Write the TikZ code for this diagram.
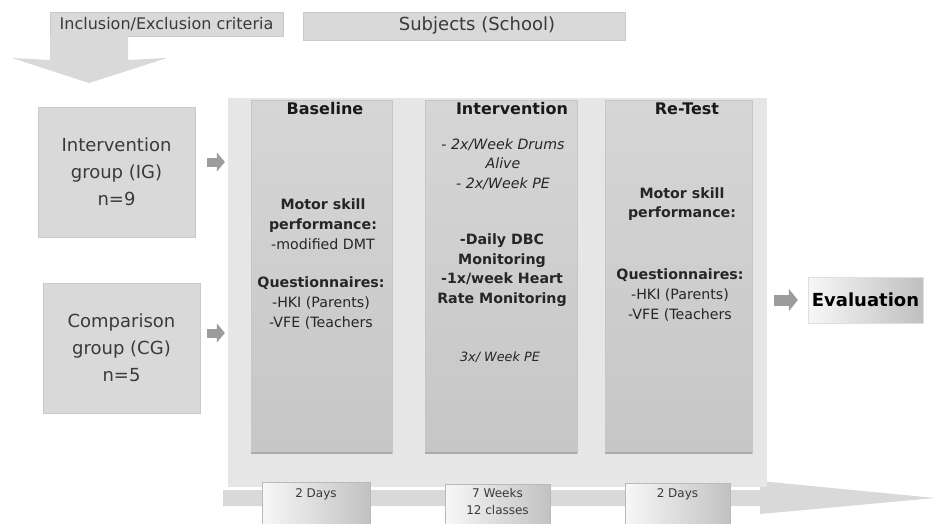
\documentclass[tikz,border=0pt]{standalone}
\usepackage{fontspec}
\setmainfont{DejaVu Sans}
\usetikzlibrary{arrows.meta}

\definecolor{boxgray}{HTML}{D9D9D9}
\definecolor{boxedge}{HTML}{C9C9C9}
\definecolor{panelgray}{HTML}{E6E6E6}
\definecolor{phasetop}{HTML}{D6D6D6}
\definecolor{phasebot}{HTML}{C6C6C6}
\definecolor{arrowgray}{HTML}{9C9C9C}
\definecolor{inkgray}{HTML}{3A3A3A}

\newcommand\groupfont{\fontsize{18}{27}\selectfont}
\newcommand\bodyfont{\fontsize{14.2}{19.7}\selectfont}

\tikzset{
  greybox/.style={fill=boxgray, draw=boxedge, inner sep=0pt, text=inkgray},
  phase/.style={draw=gray!45, top color=phasetop, bottom color=phasebot, inner sep=0pt},
  head/.style={font=\fontsize{16}{19}\selectfont\bfseries, text=black!90},
  body/.style={align=center, font=\bodyfont, text=black!85},
  daybox/.style={draw=gray!55, left color=gray!6, right color=gray!48, inner sep=0pt,
    minimum height=42pt},
  daytext/.style={anchor=north, align=center, font=\fontsize{12}{17}\selectfont, text=inkgray},
  flowarrow/.style={draw=arrowgray, line width=9pt, -{Triangle[length=8pt,width=19pt]}}
}

\begin{document}
\begin{tikzpicture}[x=1pt, y=-1pt]
  \useasboundingbox (0,0) rectangle (935,523);

  % top row
  \node[greybox, minimum width=233pt, minimum height=24pt,
    font=\fontsize{16}{19}\selectfont] (incl) at (166.5,24) {Inclusion/Exclusion criteria};
  \node[greybox, minimum width=322pt, minimum height=28pt,
    font=\fontsize{18}{21}\selectfont] (subj) at (464,26) {\hspace*{26pt}Subjects (School)};
  \fill[boxgray] (50,36) -- (50,60) -- (12,58) -- (89,83) -- (167,58) -- (128,60) -- (128,36) -- cycle;

  % groups
  \node[greybox, minimum width=157pt, minimum height=130pt, align=center, font=\groupfont]
    (ig) at (116.5,172) {Intervention\\group (IG)\\n=9};
  \node[greybox, minimum width=157pt, minimum height=130pt, align=center, font=\groupfont]
    (cg) at (121.5,348) {Comparison\\group (CG)\\n=5};

  % timeline
  \fill[boxgray] (223,490) -- (760,490) -- (760,481) -- (935,498) -- (760,514)
    -- (760,506) -- (223,506) -- cycle;

  % panel with the three phases
  \node[fill=panelgray, inner sep=0pt, minimum width=539pt, minimum height=389pt]
    (panel) at (497.5,292.5) {};
  \node[phase, minimum width=141pt, minimum height=353pt] (base) at (321.5,276.5) {};
  \node[phase, minimum width=152pt, minimum height=353pt] (interv) at (501,276.5) {};
  \node[phase, minimum width=147pt, minimum height=353pt] (retest) at (678.5,276.5) {};
  \foreach \c in {base,interv,retest}
    \draw[gray!65, line width=2pt] (\c.south west) -- (\c.south east);

  \node[head] (basehead) at (325,109) {Baseline};
  \node[head] (intervhead) at (512,109) {Intervention};
  \node[head] (retesthead) at (687,109) {Re-Test};

  \node[body] (basemotor) at (323,224) {\textbf{Motor skill}\\\textbf{performance:}\\-modified DMT};
  \node[body] (basequest) at (321,303) {\textbf{Questionnaires:}\\-HKI (Parents)\\-VFE (Teachers};

  \node[body, font=\bodyfont\itshape] (intervdrum) at (503,164) {- 2x/Week Drums\\Alive\\- 2x/Week PE};
  \node[body, font=\bodyfont\bfseries] (intervmon) at (502,270) {-Daily DBC\\Monitoring\\-1x/week Heart\\Rate Monitoring};
  \node[body, font=\fontsize{12.8}{16}\selectfont\itshape] (intervpe) at (500,357) {3x/ Week PE};

  \node[body, font=\bodyfont\bfseries] (retestmotor) at (682,204) {Motor skill\\performance:};
  \node[body] (retestquest) at (680,295) {\textbf{Questionnaires:}\\-HKI (Parents)\\-VFE (Teachers};

  % durations
  \node[daybox, minimum width=108pt] (d1) at (316,503) {};
  \node[daybox, minimum width=105pt] (d2) at (497.5,505) {};
  \node[daybox, minimum width=105pt] (d3) at (677.5,504) {};
  \node[daytext] (d1text) at ([yshift=-3pt]d1.north) {2 Days};
  \node[daytext] (d2text) at ([yshift=-1pt]d2.north) {7 Weeks\\12 classes};
  \node[daytext] (d3text) at ([yshift=-2pt]d3.north) {2 Days};

  % evaluation
  \node[draw=gray!25, left color=gray!6, right color=gray!50, inner sep=0pt,
    minimum width=115pt, minimum height=46pt, font=\fontsize{18}{21}\selectfont\bfseries]
    (eval) at (865.5,300) {Evaluation};

  % arrows
  \coordinate (igout) at ([yshift=10pt]ig.east);
  \coordinate (cgout) at ([yshift=15pt]cg.east);
  \draw[flowarrow, shorten <=12pt, shorten >=3pt] (igout) -- (igout -| panel.west);
  \draw[flowarrow, shorten <=7pt, shorten >=3pt] (cgout) -- (cgout -| panel.west);
  \draw[flowarrow, line width=11pt, -{Triangle[length=9pt,width=22pt]},
    shorten <=7pt, shorten >=10pt] (eval.west -| panel.east) -- (eval.west);
\end{tikzpicture}
\end{document}
